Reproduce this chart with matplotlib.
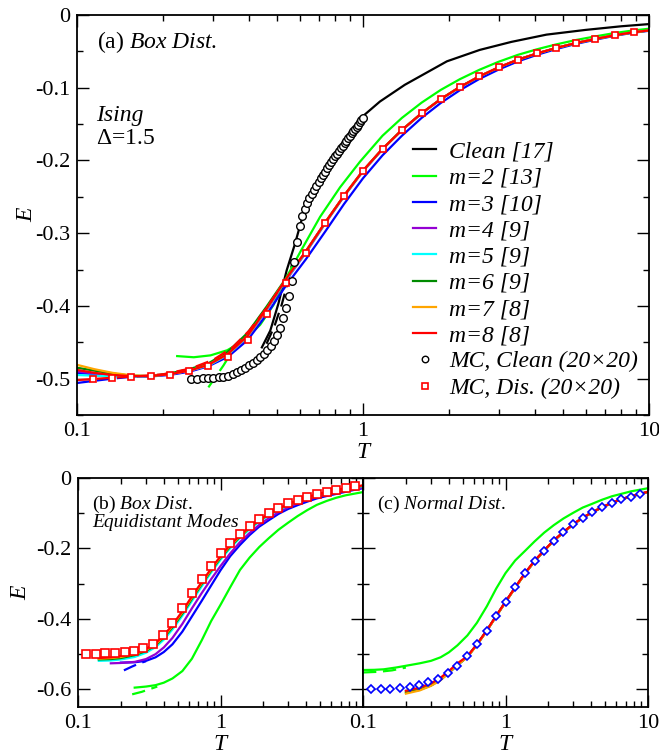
import numpy as np
import matplotlib
matplotlib.use("Agg")
import matplotlib.pyplot as plt
from matplotlib.ticker import FixedLocator, FixedFormatter, NullFormatter

plt.rcParams['font.family'] = ['Liberation Serif', 'DejaVu Serif']
plt.rcParams['mathtext.fontset'] = 'custom'
plt.rcParams['mathtext.rm'] = 'Liberation Serif'
plt.rcParams['mathtext.it'] = 'Liberation Serif:italic'
plt.rcParams['axes.unicode_minus'] = False

# ---------------- colours (xmgrace palette) ----------------
C_GREEN = '#00ff00'
C_BLUE = '#0000ff'
C_VIOLET = '#9400d3'
C_CYAN = '#00ffff'
C_DKGREEN = '#008b00'
C_ORANGE = '#ffa500'
C_RED = '#ff0000'

# ---------------- panel (a) data ----------------
T_line = [0.1, 0.115, 0.133, 0.155, 0.18, 0.21, 0.247, 0.288, 0.337, 0.395, 0.46, 0.538,
          0.631, 0.737, 0.858, 1.0, 1.17, 1.368, 1.603, 1.87, 2.18, 2.55, 2.98, 3.48,
          4.07, 4.74, 5.57, 6.5, 7.58, 8.83, 10.0]

E_a_m8 = [-0.488, -0.492, -0.495, -0.4965, -0.4965, -0.494, -0.489, -0.481, -0.466, -0.441,
          -0.404, -0.363, -0.325, -0.2855, -0.2485, -0.214, -0.184, -0.158, -0.135, -0.1156,
          -0.099, -0.0844, -0.072, -0.0614, -0.0527, -0.0453, -0.0384, -0.0329, -0.0278,
          -0.0237, -0.0212]
E_a_m7 = [-0.481, -0.487, -0.492, -0.4955, -0.4965, -0.494, -0.489, -0.481, -0.466, -0.441,
          -0.404, -0.363, -0.325, -0.2855, -0.2485, -0.214, -0.184, -0.158, -0.135, -0.1156,
          -0.099, -0.0844, -0.072, -0.0614, -0.0527, -0.0453, -0.0384, -0.0329, -0.0278,
          -0.0237, -0.0212]
E_a_m6 = [-0.485, -0.489, -0.493, -0.496, -0.4965, -0.493, -0.487, -0.479, -0.463, -0.437,
          -0.401, -0.362, -0.325, -0.2855, -0.2485, -0.214, -0.184, -0.158, -0.135, -0.1156,
          -0.099, -0.0844, -0.072, -0.0614, -0.0527, -0.0453, -0.0384, -0.0329, -0.0278,
          -0.0237, -0.0212]
E_a_m5 = [-0.495, -0.496, -0.497, -0.497, -0.4965, -0.494, -0.489, -0.482, -0.467, -0.442,
          -0.405, -0.364, -0.326, -0.2862, -0.249, -0.2145, -0.1843, -0.1582, -0.1352, -0.1158,
          -0.0991, -0.0845, -0.0721, -0.0615, -0.0528, -0.0454, -0.0385, -0.033, -0.0279,
          -0.0238, -0.0213]
E_a_m4 = [-0.490, -0.493, -0.495, -0.4965, -0.4965, -0.494, -0.4895, -0.482, -0.467, -0.443,
          -0.406, -0.365, -0.327, -0.287, -0.2495, -0.215, -0.1847, -0.1585, -0.1355, -0.116,
          -0.0993, -0.0847, -0.0722, -0.0616, -0.0529, -0.0454, -0.0385, -0.033, -0.0279,
          -0.0238, -0.0213]
E_a_m3 = [-0.492, -0.494, -0.4955, -0.497, -0.497, -0.495, -0.4905, -0.483, -0.470, -0.447,
          -0.412, -0.372, -0.336, -0.298, -0.260, -0.2245, -0.193, -0.166, -0.1415, -0.121,
          -0.1035, -0.088, -0.075, -0.0638, -0.0546, -0.0468, -0.0396, -0.0339, -0.0286,
          -0.0243, -0.0217]

T_a_m2 = [0.224, 0.256, 0.293, 0.335, 0.382, 0.437, 0.486, 0.538, 0.603, 0.708, 0.831,
          0.976, 1.17, 1.368, 1.603, 1.87, 2.18, 2.55, 2.98, 3.48, 4.07, 4.74, 5.57, 6.5,
          7.58, 8.83, 10.0]
E_a_m2 = [-0.469, -0.4706, -0.468, -0.461, -0.448, -0.426, -0.399, -0.362, -0.326, -0.2775,
          -0.237, -0.2017, -0.166, -0.1415, -0.1205, -0.103, -0.0883, -0.0754, -0.0643,
          -0.0548, -0.047, -0.0404, -0.0343, -0.0294, -0.0248, -0.0212, -0.0189]

# lower-order series (dashed)
T_a_m2d = [0.288, 0.325, 0.362, 0.40]
E_a_m2d = [-0.512, -0.482, -0.452, -0.439]
T_a_m3d = [0.1, 0.115, 0.133, 0.155]
E_a_m3d = [-0.506, -0.503, -0.500, -0.4975]
T_a_m8d = [0.1, 0.13, 0.16, 0.2, 0.25, 0.3, 0.35, 0.4, 0.45, 0.5]
E_a_m8d = [-0.502, -0.499, -0.497, -0.494, -0.486, -0.474, -0.457, -0.434, -0.408, -0.382]

T_clean = [0.443, 0.474, 0.506, 0.541, 0.579, 0.60, 0.62, 0.65, 0.68, 0.72, 0.80, 0.90,
           1.0, 1.146, 1.4, 1.965, 2.56, 3.3, 4.38, 6.0, 8.0, 10.0]
E_clean = [-0.457, -0.434, -0.397, -0.351, -0.314, -0.292, -0.272, -0.250, -0.233, -0.216,
           -0.191, -0.164, -0.139, -0.119, -0.096, -0.0637, -0.048, -0.037, -0.027, -0.0205,
           -0.0155, -0.0125]
T_clean_d = [0.46, 0.49, 0.52, 0.55, 0.57]
E_clean_d = [-0.452, -0.428, -0.398, -0.362, -0.336]

T_mc_clean = [0.25, 0.2625, 0.275, 0.2875, 0.30, 0.3125, 0.325, 0.3375, 0.35, 0.3625, 0.375,
              0.3875, 0.40, 0.4125, 0.425, 0.4375, 0.45, 0.4625, 0.475, 0.4875, 0.50, 0.5125,
              0.525, 0.5375, 0.55, 0.5625, 0.575, 0.5875, 0.60, 0.6125, 0.625, 0.6375, 0.65,
              0.6625, 0.675, 0.6875, 0.70, 0.7125, 0.725, 0.7375, 0.75, 0.7625, 0.775, 0.7875,
              0.80, 0.8125, 0.825, 0.8375, 0.85, 0.8625, 0.875, 0.8875, 0.90, 0.9125, 0.925,
              0.9375, 0.95, 0.9625, 0.975, 0.9875, 1.0]
E_mc_clean = [-0.5000, -0.5000, -0.4998, -0.4995, -0.4990, -0.4983, -0.4972, -0.4958, -0.4940,
              -0.4915, -0.4885, -0.4850, -0.4815, -0.4780, -0.4745, -0.4705, -0.4660, -0.4610,
              -0.4550, -0.4480, -0.4400, -0.4300, -0.4170, -0.4030, -0.3870, -0.3660, -0.3400,
              -0.3120, -0.2900, -0.2770, -0.2670, -0.2590, -0.2515, -0.2460, -0.2405, -0.2350,
              -0.2295, -0.2245, -0.2200, -0.2155, -0.2110, -0.2067, -0.2025, -0.1985, -0.1945,
              -0.1907, -0.1870, -0.1833, -0.1797, -0.1762, -0.1728, -0.1694, -0.1661, -0.1629,
              -0.1597, -0.1566, -0.1536, -0.1506, -0.1477, -0.1449, -0.1410]

# MC, disordered (20x20) and normal distribution
T_mc = [0.1135, 0.1327, 0.155, 0.181, 0.212, 0.247, 0.288, 0.337, 0.395, 0.46, 0.538, 0.631,
        0.737, 0.858, 1.0, 1.17, 1.368, 1.603, 1.87, 2.18, 2.55, 2.98, 3.48, 4.07, 4.74,
        5.57, 6.5, 7.58, 8.83]
E_mc_dis = [-0.5004, -0.499, -0.498, -0.497, -0.4945, -0.490, -0.483, -0.4706, -0.4466, -0.411,
            -0.3686, -0.3267, -0.2858, -0.2486, -0.214, -0.184, -0.158, -0.135, -0.1156, -0.099,
            -0.0844, -0.072, -0.0614, -0.0527, -0.0453, -0.0384, -0.0329, -0.0278, -0.0237]
E_mc_norm = [-0.5995, -0.5995, -0.5986, -0.5967, -0.5929, -0.5872, -0.5797, -0.5702, -0.5541,
             -0.5324, -0.5050, -0.4709, -0.4331, -0.3915, -0.3508, -0.3102, -0.2704, -0.2355,
             -0.2061, -0.1787, -0.1541, -0.1314, -0.1125, -0.0974, -0.0832, -0.0700, -0.0605,
             -0.0530, -0.0454]

# ---------------- panels (b), (c) data ----------------
nan = np.nan
T_low = [0.1, 0.12, 0.14, 0.17, 0.2, 0.25, 0.3, 0.35, 0.4, 0.46, 0.54, 0.63, 0.74, 0.86, 1.0,
         1.17, 1.37, 1.6, 1.87, 2.18, 2.55, 2.98, 3.48, 4.07, 4.74, 5.57, 6.5, 7.58, 8.83, 10.0]

E_b_m2 = [nan, nan, nan, nan, nan, -0.595, -0.592, -0.588, -0.581, -0.569, -0.548, -0.513, -0.46,
          -0.406, -0.36, -0.31, -0.261, -0.226, -0.196, -0.171, -0.147, -0.127, -0.108, -0.091,
          -0.0763, -0.065, -0.056, -0.049, -0.044, -0.040]
E_b_m3 = [nan, nan, nan, nan, -0.524, -0.523, -0.519, -0.509, -0.494, -0.472, -0.436, -0.393,
          -0.348, -0.305, -0.262, -0.222, -0.19, -0.162, -0.138, -0.12, -0.102, -0.088, -0.077,
          -0.067, -0.058, -0.051, -0.045, -0.039, -0.033, -0.029]
E_b_m4 = [nan, nan, nan, -0.526, -0.525, -0.522, -0.514, -0.500, -0.481, -0.454, -0.414, -0.370,
          -0.326, -0.287, -0.250, -0.214, -0.182, -0.156, -0.133, -0.114, -0.097, -0.083, -0.072,
          -0.062, -0.054, -0.047, -0.041, -0.036, -0.031, -0.027]
E_b_m5 = [nan, nan, -0.519, -0.518, -0.515, -0.508, -0.496, -0.480, -0.459, -0.430, -0.391, -0.349,
          -0.307, -0.268, -0.232, -0.199, -0.170, -0.145, -0.124, -0.106, -0.091, -0.078, -0.067,
          -0.057, -0.049, -0.0425, -0.0365, -0.0315, -0.027, -0.0235]
E_b_m6 = [nan, nan, -0.515, -0.514, -0.511, -0.503, -0.491, -0.475, -0.453, -0.424, -0.385, -0.343,
          -0.301, -0.263, -0.227, -0.195, -0.167, -0.142, -0.121, -0.104, -0.089, -0.076, -0.065,
          -0.0555, -0.0478, -0.041, -0.035, -0.030, -0.0257, -0.0222]
E_b_m7 = [nan, nan, -0.513, -0.511, -0.508, -0.500, -0.488, -0.472, -0.450, -0.420, -0.381, -0.339,
          -0.298, -0.260, -0.224, -0.192, -0.165, -0.140, -0.120, -0.103, -0.088, -0.075, -0.064,
          -0.0548, -0.047, -0.040, -0.0344, -0.029, -0.025, -0.0216]
E_b_m8 = [nan, nan, -0.511, -0.509, -0.505, -0.497, -0.485, -0.469, -0.447, -0.417, -0.378, -0.336,
          -0.295, -0.257, -0.222, -0.190, -0.163, -0.139, -0.119, -0.102, -0.087, -0.074, -0.063,
          -0.054, -0.0465, -0.0395, -0.0338, -0.0286, -0.0243, -0.021]
T_b_m2d = [0.24, 0.28, 0.32, 0.36]
E_b_m2d = [-0.614, -0.607, -0.599, -0.592]
T_b_m3d = [0.21, 0.24, 0.27, 0.3]
E_b_m3d = [-0.546, -0.535, -0.526, -0.520]

E_c_m2 = [-0.545, -0.5445, -0.543, -0.538, -0.533, -0.526, -0.519, -0.509, -0.495, -0.475, -0.447,
          -0.411, -0.364, -0.314, -0.270, -0.234, -0.207, -0.180, -0.155, -0.134, -0.115, -0.099,
          -0.084, -0.073, -0.062, -0.052, -0.045, -0.038, -0.033, -0.029]
E_c_m3 = [nan, nan, nan, nan, nan, -0.594, -0.586, -0.571, -0.552, -0.530, -0.507, -0.473,
          -0.433, -0.392, -0.352, -0.311, -0.271, -0.236, -0.206, -0.178, -0.154, -0.132, -0.113,
          -0.0975, -0.0835, -0.0708, -0.0603, -0.0523, -0.0453, -0.0393]
E_c_m4 = [nan, nan, nan, nan, nan, -0.598, -0.588, -0.572, -0.553, -0.531, -0.507, -0.473,
          -0.433, -0.392, -0.352, -0.311, -0.271, -0.236, -0.206, -0.178, -0.154, -0.132, -0.113,
          -0.0975, -0.0835, -0.0708, -0.0603, -0.0523, -0.0453, -0.0393]
E_c_m5 = [nan, nan, nan, nan, -0.604, -0.598, -0.588, -0.572, -0.553, -0.530, -0.507, -0.473,
          -0.433, -0.392, -0.352, -0.311, -0.271, -0.236, -0.206, -0.178, -0.154, -0.132, -0.113,
          -0.0975, -0.0835, -0.0708, -0.0603, -0.0523, -0.0453, -0.0393]
E_c_m6 = [nan, nan, nan, nan, -0.609, -0.601, -0.589, -0.573, -0.553, -0.531, -0.508, -0.473,
          -0.433, -0.392, -0.352, -0.311, -0.271, -0.236, -0.206, -0.178, -0.154, -0.132, -0.113,
          -0.0975, -0.0835, -0.0708, -0.0603, -0.0523, -0.0453, -0.0393]
E_c_m7 = [nan, nan, nan, nan, -0.612, -0.603, -0.590, -0.574, -0.553, -0.530, -0.509, -0.474,
          -0.434, -0.393, -0.353, -0.312, -0.272, -0.236, -0.206, -0.178, -0.154, -0.132, -0.113,
          -0.0975, -0.0835, -0.0708, -0.0603, -0.0523, -0.0453, -0.0393]
E_c_m8 = [nan, nan, nan, nan, -0.604, -0.595, -0.583, -0.567, -0.548, -0.526, -0.506, -0.472,
          -0.432, -0.391, -0.351, -0.310, -0.270, -0.2345, -0.205, -0.177, -0.153, -0.131, -0.1125,
          -0.097, -0.0832, -0.0705, -0.060, -0.052, -0.045, -0.039]
T_c_m2d = [0.1, 0.13, 0.16, 0.2]
E_c_m2d = [-0.552, -0.550, -0.546, -0.538]

# tick values / labels
X_TICKS = [0.1, 1, 10]
X_LABELS = ['0.1', '1', '10']
X_MINOR = [0.2, 0.3, 0.4, 0.5, 0.6, 0.7, 0.8, 0.9, 2, 3, 4, 5, 6, 7, 8, 9]
Y_TICKS_A = [0, -0.1, -0.2, -0.3, -0.4, -0.5]
Y_LABELS_A = ['0', '-0.1', '-0.2', '-0.3', '-0.4', '-0.5']
Y_MINOR_A = [-0.05, -0.15, -0.25, -0.35, -0.45, -0.55]
Y_TICKS_B = [0, -0.2, -0.4, -0.6]
Y_LABELS_B = ['0', '-0.2', '-0.4', '-0.6']
Y_MINOR_B = [-0.1, -0.3, -0.5]

LW = 1.6
FS = 16
DASH = (0, (6, 3))


def style_axis(ax, ylim, yticks, ylabels, yminor, xlabels=X_LABELS):
    ax.set_xscale('log')
    ax.set_xlim(0.1, 10)
    ax.set_ylim(*ylim)
    ax.xaxis.set_major_locator(FixedLocator(X_TICKS))
    ax.xaxis.set_major_formatter(FixedFormatter(xlabels))
    ax.xaxis.set_minor_locator(FixedLocator(X_MINOR))
    ax.xaxis.set_minor_formatter(NullFormatter())
    ax.yaxis.set_major_locator(FixedLocator(yticks))
    ax.yaxis.set_major_formatter(FixedFormatter(ylabels))
    ax.yaxis.set_minor_locator(FixedLocator(yminor))
    ax.yaxis.set_minor_formatter(NullFormatter())
    ax.tick_params(which='both', direction='in', top=True, right=True, labelsize=FS, width=1.0)
    ax.tick_params(which='major', length=8.5, pad=5)
    ax.tick_params(which='minor', length=4.3)
    for s in ax.spines.values():
        s.set_linewidth(1.3)


fig = plt.figure(figsize=(6.59, 7.54), dpi=100)
ax_a = fig.add_axes([77 / 659, 1 - 415 / 754, 572 / 659, 400 / 754])
ax_b = fig.add_axes([78 / 659, 1 - 707 / 754, 285 / 659, 229 / 754])
ax_c = fig.add_axes([363 / 659, 1 - 707 / 754, 285 / 659, 229 / 754])

# ---------------- panel (a) ----------------
ax = ax_a
ax.plot(T_clean, E_clean, color='black', lw=LW, label='Clean [17]')
ax.plot(T_clean_d, E_clean_d, color='black', lw=LW, ls=DASH)
ax.plot(T_a_m2, E_a_m2, color=C_GREEN, lw=LW, label='m=2 [13]')
ax.plot(T_a_m2d, E_a_m2d, color=C_GREEN, lw=LW, ls=DASH)
ax.plot(T_line, E_a_m3, color=C_BLUE, lw=LW, label='m=3 [10]')
ax.plot(T_a_m3d, E_a_m3d, color=C_BLUE, lw=LW, ls=DASH)
ax.plot(T_line, E_a_m4, color=C_VIOLET, lw=LW, label='m=4 [9]')
ax.plot(T_line, E_a_m5, color=C_CYAN, lw=LW, label='m=5 [9]')
ax.plot(T_line, E_a_m6, color=C_DKGREEN, lw=LW, label='m=6 [9]')
ax.plot(T_line, E_a_m7, color=C_ORANGE, lw=LW, label='m=7 [8]')
ax.plot(T_line, E_a_m8, color=C_RED, lw=LW, label='m=8 [8]')
ax.plot(T_a_m8d, E_a_m8d, color=C_RED, lw=LW, ls=DASH)
ax.plot(T_mc_clean, E_mc_clean, ls='none', marker='o', ms=5.5, mfc='white', mec='black',
        mew=1.0, label='MC, Clean (20×20)')
ax.plot(T_mc, E_mc_dis, ls='none', marker='s', ms=5, mfc='white', mec=C_RED, mew=1.2,
        label='MC, Dis. (20×20)')
style_axis(ax, (-0.55, 0), Y_TICKS_A, Y_LABELS_A, Y_MINOR_A)
ax.set_xlabel('T', fontsize=17, fontstyle='italic', labelpad=1)
ax.set_ylabel('E', fontsize=17, fontstyle='italic', labelpad=-2)
ax.text(0.035, 0.932, r'(a) $\mathit{Box\ Dist.}$', transform=ax.transAxes, fontsize=17,
        va='center', ha='left')
ax.text(0.033, 0.75, 'Ising', transform=ax.transAxes, fontsize=17, fontstyle='italic',
        va='center', ha='left')
ax.text(0.033, 0.6925, r'$\Delta$=$\mathit{1.5}$', transform=ax.transAxes, fontsize=17,
        va='center', ha='left')
leg = ax.legend(loc='upper left', bbox_to_anchor=(0.587, 0.685), frameon=False,
                prop={'family': 'Liberation Serif', 'style': 'italic', 'size': 17},
                handlelength=1.0, handletextpad=0.55, labelspacing=0.2, borderpad=0,
                borderaxespad=0, markerscale=0.85)

# ---------------- panel (b) ----------------
ax = ax_b
ax.plot(T_low, E_b_m2, color=C_GREEN, lw=LW)
ax.plot(T_b_m2d, E_b_m2d, color=C_GREEN, lw=LW, ls=DASH)
ax.plot(T_low, E_b_m3, color=C_BLUE, lw=LW)
ax.plot(T_b_m3d, E_b_m3d, color=C_BLUE, lw=LW, ls=DASH)
ax.plot(T_low, E_b_m4, color=C_VIOLET, lw=LW)
ax.plot(T_low, E_b_m5, color=C_CYAN, lw=LW)
ax.plot(T_low, E_b_m6, color=C_DKGREEN, lw=LW)
ax.plot(T_low, E_b_m7, color=C_ORANGE, lw=LW)
ax.plot(T_low, E_b_m8, color=C_RED, lw=LW)
ax.plot(T_mc, E_mc_dis, ls='none', marker='s', ms=5.5, mfc='white', mec=C_RED, mew=1.2)
style_axis(ax, (-0.65, 0), Y_TICKS_B, Y_LABELS_B, Y_MINOR_B, xlabels=['0.1', '1', ''])
ax.set_xlabel('T', fontsize=17, fontstyle='italic', labelpad=1)
ax.set_ylabel('E', fontsize=17, fontstyle='italic', labelpad=3)
ax.text(0.05, 0.885, r'(b) $\mathit{Box\ Dist.}$', transform=ax.transAxes, fontsize=14,
        va='center', ha='left')
ax.text(0.05, 0.805, 'Equidistant Modes', transform=ax.transAxes, fontsize=14,
        fontstyle='italic', va='center', ha='left')

# ---------------- panel (c) ----------------
ax = ax_c
ax.plot(T_low, E_c_m2, color=C_GREEN, lw=LW)
ax.plot(T_c_m2d, E_c_m2d, color=C_GREEN, lw=LW, ls=DASH)
ax.plot(T_low, E_c_m3, color=C_BLUE, lw=LW)
ax.plot(T_low, E_c_m4, color=C_VIOLET, lw=LW)
ax.plot(T_low, E_c_m5, color=C_CYAN, lw=LW)
ax.plot(T_low, E_c_m6, color=C_DKGREEN, lw=LW)
ax.plot(T_low, E_c_m7, color=C_ORANGE, lw=LW)
ax.plot(T_low, E_c_m8, color=C_RED, lw=LW)
ax.plot(T_mc, E_mc_norm, ls='none', marker='D', ms=4.3, mfc='white', mec=C_BLUE, mew=1.2)
style_axis(ax, (-0.65, 0), Y_TICKS_B, Y_LABELS_B, Y_MINOR_B)
ax.tick_params(labelleft=False)
ax.set_xlabel('T', fontsize=17, fontstyle='italic', labelpad=1)
ax.text(0.05, 0.885, r'(c) $\mathit{Normal\ Dist.}$', transform=ax.transAxes, fontsize=14,
        va='center', ha='left')

fig.savefig('out.png', dpi=100)
